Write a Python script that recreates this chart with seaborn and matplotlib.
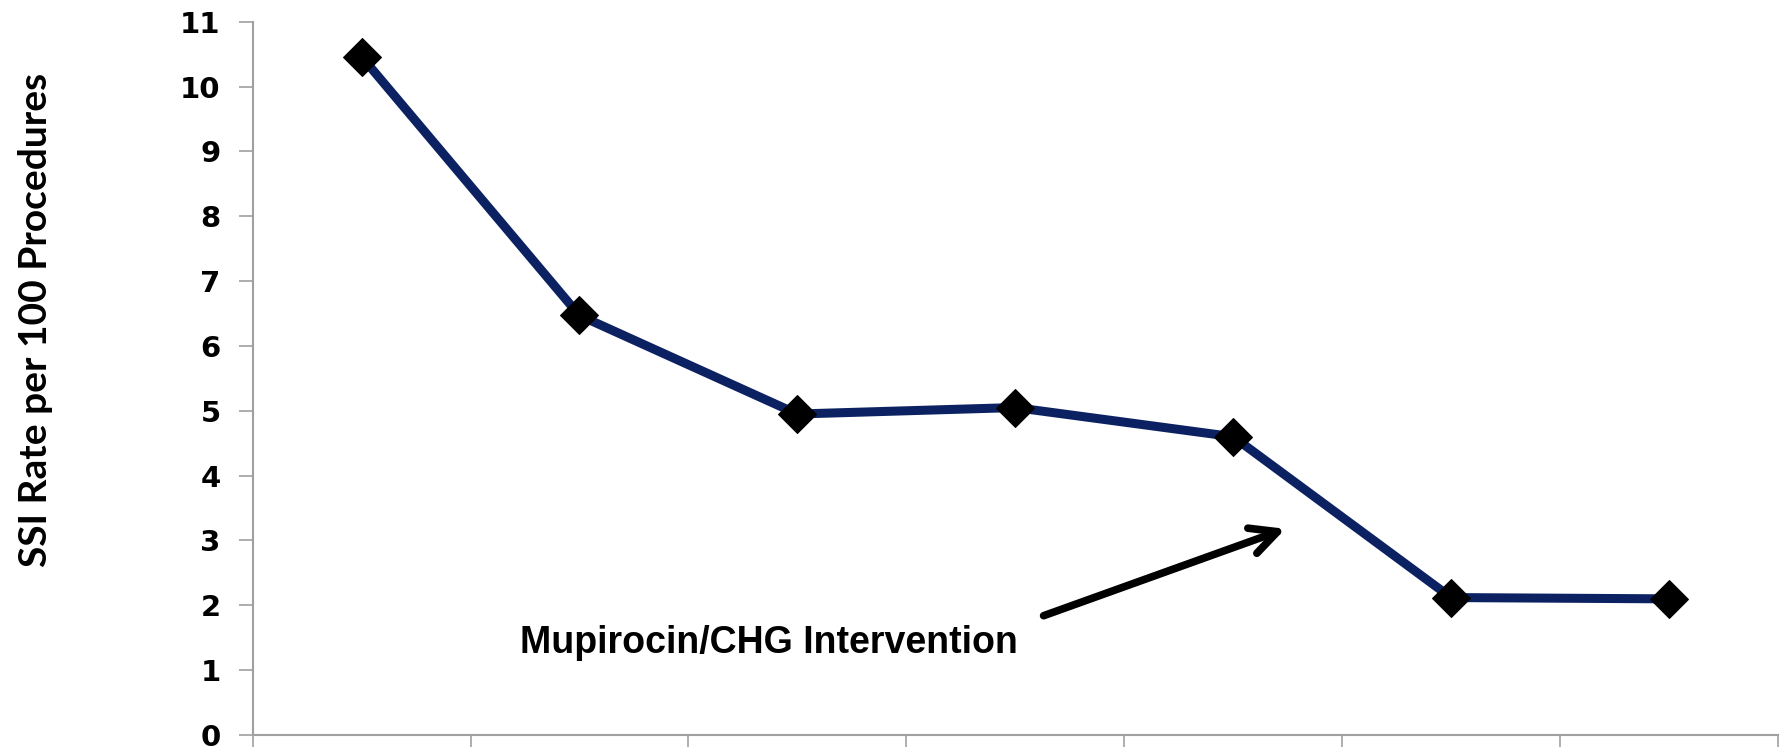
import numpy as np
import pandas as pd
import matplotlib
matplotlib.use("Agg")
import matplotlib.pyplot as plt
import seaborn as sns

# SSI rate per period
periods = [1, 2, 3, 4, 5, 6, 7]
ssi_rate = [10.46, 6.47, 4.95, 5.05, 4.6, 2.12, 2.1]
y_ticks = list(range(0, 12))

sns.set_theme(style="white")
plt.rcParams["font.family"] = ["DejaVu Sans"]
plt.rcParams["text.color"] = "black"
plt.rcParams["axes.labelcolor"] = "black"
plt.rcParams["ytick.color"] = "black"

df = pd.DataFrame({"period": np.arange(len(periods)), "rate": ssi_rate})

fig = plt.figure(figsize=(17.84, 7.47), dpi=100)
ax = fig.add_axes([0.1416, 0.016, 0.855, 0.955])

sns.lineplot(data=df, x="period", y="rate", ax=ax, color="#0B2161",
             linewidth=6.5, marker="D", markersize=19,
             markerfacecolor="black", markeredgecolor="black")

ax.set_xlim(-0.5, len(periods) - 0.5)
ax.set_ylim(0, 11)
ax.set_yticks(y_ticks)
ax.set_yticklabels([str(t) for t in y_ticks], fontsize=21, fontweight="bold")
ax.set_xticks(np.arange(-0.5, len(periods), 1.0))
ax.set_xticklabels([])
ax.set_xlabel("")
ax.set_ylabel("SSI Rate per 100 Procedures", fontsize=28, fontweight="bold",
              family=["Lato", "DejaVu Sans"])
ax.yaxis.set_label_coords(-0.131, 0.582)

for side in ("top", "right"):
    ax.spines[side].set_visible(False)
for side in ("left", "bottom"):
    ax.spines[side].set_color("#A0A0A0")
    ax.spines[side].set_linewidth(1.5)
ax.tick_params(axis="both", direction="out", length=10, width=1.2,
               color="#A0A0A0", left=True, bottom=True)
ax.tick_params(axis="y", pad=13, labelcolor="black")

ax.annotate("", xy=(4.24, 3.18), xytext=(3.13, 1.84),
            arrowprops=dict(arrowstyle="->,head_length=1.6,head_width=0.8",
                            color="black", lw=5.5, shrinkA=0, shrinkB=0,
                            capstyle="round", joinstyle="round"))
ax.text(1.87, 1.42, "Mupirocin/CHG Intervention", fontsize=27,
        fontweight="bold", family=["Liberation Sans", "DejaVu Sans"],
        ha="center", va="center", color="black")

fig.savefig("out.png", dpi=100)
